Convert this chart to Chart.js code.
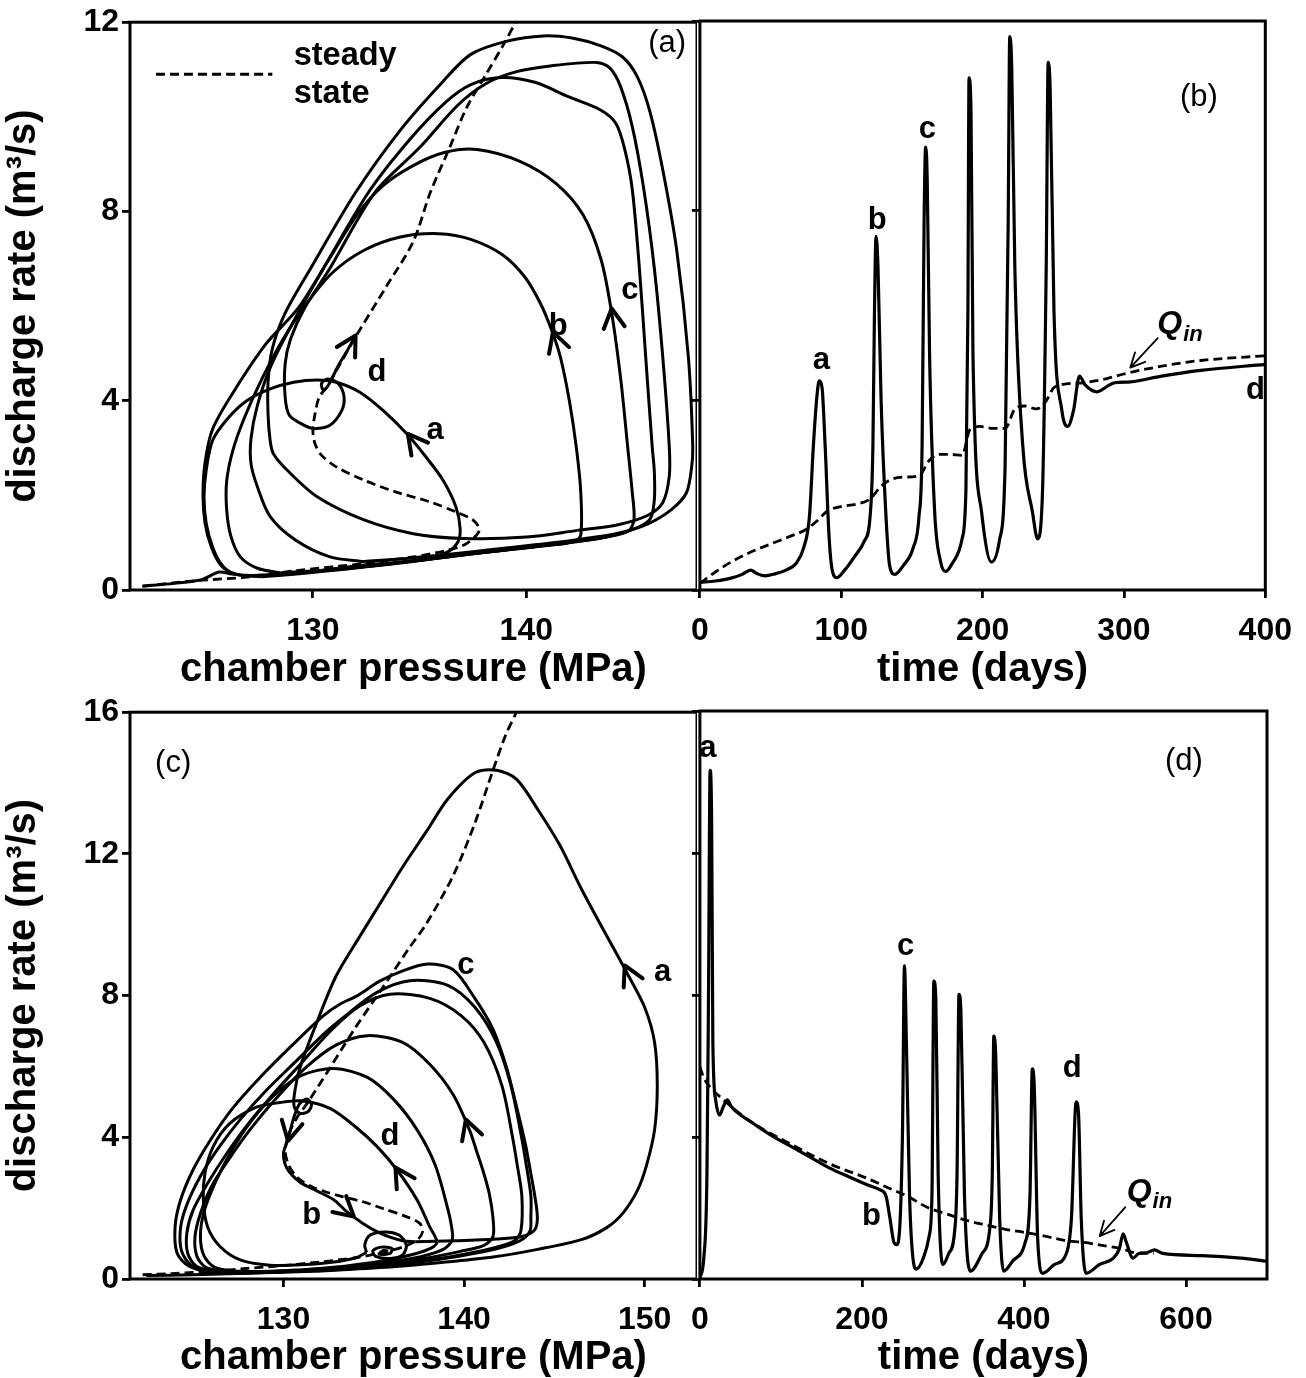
<!DOCTYPE html>
<html>
<head>
<meta charset="utf-8">
<script src="https://cdn.jsdelivr.net/npm/chart.js@4.4.1/dist/chart.umd.min.js"></script>
<style>
  html, body { margin: 0; padding: 0; background: #fff; }
  #wrap { position: relative; width: 1306px; height: 1378px; overflow: hidden; }
  canvas { position: absolute; }
</style>
</head>
<body>
<div id="wrap">
  <canvas id="chartA" width="697" height="690" style="left:0;top:0;width:697px;height:690px"></canvas>
  <canvas id="chartB" width="629" height="690" style="left:677px;top:0;width:629px;height:690px"></canvas>
  <canvas id="chartC" width="697" height="688" style="left:0;top:690px;width:697px;height:688px"></canvas>
  <canvas id="chartD" width="629" height="688" style="left:677px;top:690px;width:629px;height:688px"></canvas>
</div>
<script>
// ---- panel (a): chamber pressure (MPa) vs discharge rate (m3/s) ----
const steadyA = [[122.05,0.08],[124.6,0.2],[126.9,0.27],[129.2,0.41],[132.4,0.56],[134.7,0.7],[136.3,0.84],[137.2,0.98],[137.8,1.26],[137.5,1.48],[136.7,1.65],[135.5,1.86],[133.9,2.07],[132.4,2.32],[131.1,2.6],[130.4,2.85],[130.1,3.09],[130.0,3.37],[130.1,3.72],[130.3,4.08],[130.65,4.29],[131.1,4.64],[131.99,5.34],[133.45,6.42],[134.7,7.36],[135.5,8.4],[136.4,9.34],[137.2,10.19],[138.05,10.85],[138.9,11.5],[139.5,12.0]];
const loopA1 = [[122.0,0.08],[123.5,0.14],[124.8,0.22],[125.6,0.38],[126.2,0.34],[127.2,0.3],[128.8,0.34],[130.5,0.42],[132.4,0.53],[133.9,0.58],[135.3,0.66],[136.3,0.8],[136.8,1.02],[136.9,1.3],[136.7,1.76],[136.1,2.32],[135.3,2.81],[134.4,3.3],[133.3,3.79],[132.2,4.18],[131.1,4.39],[130.2,4.44],[129.1,4.39],[128.0,4.25],[126.9,4.0],[126.0,3.62],[125.3,3.16],[125.0,2.53],[124.9,1.97],[125.0,1.41],[125.3,0.91],[125.7,0.55],[126.2,0.36],[127.0,0.3]];
const loopA2 = [[127.0,0.3],[129.0,0.35],[131.0,0.43],[133.0,0.52],[135.0,0.63],[137.0,0.74],[139.0,0.84],[141.0,0.94],[142.2,1.02],[142.55,1.15],[142.55,2.09],[142.34,3.03],[142.03,3.97],[141.6,4.92],[141.2,5.48],[140.67,6.05],[139.94,6.61],[138.9,7.08],[137.4,7.41],[135.9,7.53],[134.1,7.46],[132.4,7.18],[130.9,6.7],[129.7,6.05],[128.6,5.3],[127.6,4.45],[126.8,3.65],[126.25,2.95],[125.96,2.3],[125.96,1.7],[126.15,1.15],[126.6,0.7],[127.4,0.46],[128.5,0.36]];
const loopA3 = [[128.5,0.36],[130.5,0.42],[132.5,0.5],[134.5,0.6],[136.5,0.71],[138.5,0.82],[140.5,0.92],[142.5,1.03],[144.0,1.14],[144.8,1.25],[145.05,1.5],[144.96,2.09],[144.75,3.03],[144.43,4.44],[144.0,5.86],[143.5,6.99],[142.66,7.93],[141.4,8.59],[139.7,9.06],[137.7,9.31],[136.2,9.25],[134.7,8.97],[133.3,8.55],[132.1,7.95],[130.7,6.95],[129.3,5.95],[127.8,5.2],[126.3,4.2],[125.3,3.4],[124.95,2.7],[124.85,2.0],[124.95,1.4],[125.25,0.9],[125.7,0.52],[126.4,0.33],[127.6,0.28]];
const loopA4 = [[127.6,0.28],[129.5,0.35],[131.5,0.44],[133.5,0.54],[135.5,0.65],[137.5,0.77],[139.5,0.87],[141.5,0.98],[143.5,1.1],[145.0,1.28],[145.8,1.5],[146.0,1.9],[146.0,2.5],[145.9,3.03],[145.6,4.9],[145.3,6.8],[144.96,8.49],[144.6,9.34],[144.2,9.86],[143.5,10.14],[142.0,10.42],[140.4,10.73],[138.8,10.83],[137.4,10.68],[136.2,10.3],[134.5,9.5],[132.6,8.4],[130.5,6.8],[129.0,5.6],[128.0,4.7],[127.4,3.9],[127.1,3.2],[127.1,2.67],[127.4,2.18],[128.0,1.55],[129.2,1.05],[130.8,0.7],[132.4,0.6]];
const loopA5 = [[132.4,0.6],[134.5,0.67],[136.5,0.76],[138.5,0.86],[140.5,0.96],[142.5,1.07],[144.3,1.2],[145.7,1.4],[146.8,1.7],[147.5,2.05],[147.75,2.6],[147.8,3.03],[147.6,4.9],[147.05,7.18],[146.4,8.87],[145.8,10.1],[145.2,10.85],[144.5,11.27],[143.5,11.5],[142.2,11.66],[140.8,11.71],[139.1,11.6],[137.4,11.32],[136.0,10.7],[134.1,9.72],[132.0,8.4],[129.9,6.8],[128.7,5.85],[128.1,5.1],[127.9,4.4],[127.9,3.7],[128.0,3.15],[128.15,2.88],[128.8,2.53],[130.2,1.97],[132.4,1.48],[134.7,1.19],[137.05,1.09],[140.0,1.12],[142.4,1.26]];
const loopA6 = [[142.4,1.26],[144.3,1.38],[145.7,1.58],[146.4,1.85],[146.7,2.4],[146.7,3.03],[146.4,4.9],[146.0,6.8],[145.5,8.49],[144.96,9.81],[144.4,10.66],[143.9,11.04],[143.3,11.15],[141.2,11.08],[139.5,10.95],[138.1,10.7],[136.8,10.25],[135.0,9.35],[132.9,8.4],[130.8,6.8],[129.6,5.95],[128.95,5.3],[128.7,4.78],[128.7,4.08],[128.9,3.69],[129.6,3.48],[130.07,3.41],[130.8,3.48],[131.35,3.79],[131.46,4.08],[131.2,4.36],[130.7,4.46],[130.4,4.36],[130.5,4.22],[130.75,4.35],[131.2,4.75],[131.6,5.05],[132.0,5.38]];
const legendLineA = [[122.65,10.9],[128.1,10.9]];
const arrowsA = [[134.45,3.3,135.3,2.81],[141.25,5.45,141.8,4.7],[144.0,5.95,144.4,4.6],[132.0,5.38,131.2,4.75]];
const labelsA = [[135.73,3.37,'a','b'],[141.5,5.57,'b','b'],[144.85,6.33,'c','b'],[133.0,4.6,'d','b'],[146.6,11.55,'(a)','r'],[129.1,11.28,'steady','bl'],[129.1,10.48,'state','bl']];

// ---- panel (b): time (days) vs discharge rate ----
const qOutB = [[0,0.16],[11,0.19],[22,0.25],[30,0.33],[36,0.42],[40,0.35],[46,0.3],[53,0.34],[61,0.42],[68,0.56],[73.4,0.89],[77.5,1.55],[80.3,3.05],[82.5,3.99],[84.4,4.41],[86.4,4.27],[88.6,3.05],[91.3,1.17],[93.6,0.42],[96.9,0.26],[102.4,0.42],[109.3,0.7],[116.3,1.03],[120.4,1.55],[122.4,3.05],[123.5,5.87],[124.6,7.46],[126.0,6.81],[128.2,3.99],[131.5,1.64],[134.2,0.52],[137.9,0.33],[144,0.52],[150.9,0.89],[155,1.55],[157.2,3.05],[158.6,7.75],[159.7,9.34],[160.8,8.69],[162.5,4.93],[166.1,1.64],[170.2,0.61],[173.8,0.39],[178.5,0.56],[185.5,1.08],[188.2,2.11],[189.6,5.87],[190.4,10.8],[191.8,10.09],[193.2,4.93],[199.3,1.64],[206.2,0.59],[211.8,1.03],[215.9,2.58],[218.1,7.75],[219.2,11.67],[220.6,11.03],[222.8,6.81],[228.4,3.05],[235.3,1.64],[238.9,1.08],[242.2,1.92],[245,6.81],[246.4,11.13],[247.8,10.56],[250.5,5.87],[256,3.8],[260.2,3.45],[264.4,3.8],[268.5,4.51],[272.7,4.32],[281,4.18],[287.9,4.29],[293.4,4.37],[304.5,4.39],[326.6,4.51],[354.3,4.63],[400,4.76]];
const qInB = [[0,0.14],[11,0.38],[22,0.59],[36,0.8],[50,0.97],[63.7,1.13],[74.7,1.27],[83,1.46],[90,1.66],[99.7,1.76],[110.7,1.81],[120.4,1.92],[127.3,2.16],[134.3,2.32],[143.9,2.38],[155,2.41],[161.9,2.72],[168.9,2.86],[177.2,2.86],[185.5,2.84],[191,3.38],[197.9,3.45],[207.6,3.41],[216,3.41],[222.9,3.82],[229.7,3.88],[238,3.82],[245,3.99],[250.5,4.27],[260.2,4.35],[271.3,4.37],[287.9,4.46],[299,4.55],[326.6,4.72],[354.3,4.84],[400,4.94]];
const labelsB = [[86,4.85,'a','b'],[125.5,7.8,'b','b'],[161,9.72,'c','b'],[393,4.2,'d','b'],[353,10.38,'(b)','r'],[337.7,5.6,'Q','q']];
const qArrowB = [323.9,5.31,304.5,4.69];

// ---- panel (c): chamber pressure vs discharge rate ----
const steadyC = [[122.2,0.12],[124,0.16],[126,0.22],[128,0.3],[130,0.38],[132,0.48],[134,0.6],[135.5,0.75],[136.6,0.9],[137.4,1.1],[137.7,1.33],[137.55,1.57],[136.8,1.76],[135.5,1.99],[134.4,2.18],[133.3,2.32],[132.4,2.45],[131.6,2.6],[130.8,2.85],[130.3,3.2],[130.1,3.6],[130.3,4.1],[130.8,4.6],[131.3,4.95],[132.6,5.98],[134.0,7.11],[135.5,8.23],[136.9,9.3],[137.9,10.02],[139.4,11.39],[140.6,12.87],[141.6,14.36],[142.3,15.35],[142.9,16.0]];
const loopC1 = [[122.4,0.1],[125.0,0.12],[128.0,0.16],[131.7,0.22],[134.2,0.29],[136.6,0.37],[139.0,0.48],[141.6,0.62],[144.0,0.83],[146.5,1.11],[147.9,1.45],[148.8,1.86],[149.6,2.5],[150.1,3.2],[150.55,4.21],[150.7,5.45],[150.55,6.68],[150.0,7.67],[149.0,8.66],[147.8,9.78],[146.5,11.01],[145.3,12.25],[144.1,13.24],[142.9,14.11],[141.8,14.36],[140.6,14.29],[139.1,13.55],[137.9,12.62],[136.6,11.63],[135.4,10.64],[134.2,9.65],[132.9,8.54],[131.7,7.05],[130.9,5.94],[130.6,5.2],[130.6,4.85],[130.9,4.68],[131.35,4.72],[131.55,4.92],[131.3,5.08],[130.9,4.95],[130.6,4.6],[130.25,3.95],[130.0,3.54],[130.2,3.12],[130.9,2.74],[131.8,2.5],[132.8,2.23],[133.5,1.9],[134.4,1.57],[135.2,1.33],[135.9,1.18],[136.6,1.08],[137.3,1.05]];
const loopC2 = [[137.3,1.05],[139.5,1.08],[141.8,1.13],[143.2,1.2],[143.9,1.38],[144.06,1.73],[143.9,2.4],[143.7,2.97],[143.4,3.8],[143.1,4.46],[142.7,5.3],[142.3,6.06],[141.6,7.05],[140.6,7.92],[139.4,8.73],[138.0,8.89],[136.6,8.7],[135.3,8.4],[134.1,8.0],[133.1,7.75],[132.2,7.43],[130.4,6.56],[128.7,5.69],[127.2,4.83],[126.0,3.96],[125.0,3.09],[124.3,2.23],[124.0,1.49],[124.1,0.74],[124.75,0.37],[126.0,0.19],[128.0,0.17],[130.0,0.2]];
const loopC3 = [[130.0,0.2],[132.5,0.26],[135.0,0.35],[137.5,0.48],[139.8,0.65],[141.8,0.85],[143.1,1.08],[143.65,1.35],[143.7,1.75],[143.7,2.35],[143.45,3.2],[143.2,3.96],[142.6,5.45],[141.8,6.68],[140.6,7.67],[139.1,8.29],[137.0,8.42],[135.2,8.1],[133.6,7.5],[132.3,6.95],[130.6,6.1],[129.0,5.3],[127.6,4.5],[126.4,3.7],[125.4,2.9],[124.65,2.1],[124.3,1.45],[124.35,0.8],[124.9,0.38],[126.1,0.21],[128.0,0.18],[130.0,0.21]];
const loopC4 = [[130.0,0.21],[132.5,0.27],[135.0,0.36],[137.5,0.5],[139.8,0.68],[141.8,0.9],[142.8,1.08],[143.15,1.36],[143.2,2.35],[142.95,3.2],[142.7,3.96],[142.1,5.45],[141.1,6.68],[139.85,7.43],[138.1,7.92],[135.9,8.04],[134.2,7.7],[132.7,7.05],[131.0,6.1],[129.4,5.2],[128.0,4.35],[126.8,3.5],[125.8,2.7],[125.0,1.95],[124.65,1.3],[124.7,0.72],[125.2,0.35],[126.4,0.2],[128.3,0.18],[130.3,0.22]];
const loopC5 = [[130.3,0.22],[133.0,0.3],[135.5,0.42],[137.8,0.58],[139.8,0.78],[141.1,0.95],[141.6,1.2],[141.6,1.73],[141.4,2.4],[141.1,2.97],[140.7,3.6],[140.3,4.21],[139.4,5.2],[138.1,6.06],[136.6,6.68],[134.65,6.87],[132.9,6.6],[131.2,5.95],[129.6,5.1],[128.2,4.25],[127.0,3.4],[126.0,2.6],[125.4,1.85],[125.1,1.2],[125.2,0.65],[125.7,0.33],[126.9,0.22],[128.8,0.2],[130.8,0.24]];
const loopC6 = [[130.8,0.24],[133.3,0.33],[135.6,0.46],[137.6,0.63],[138.9,0.85],[139.35,1.11],[139.3,1.5],[139.1,1.98],[138.4,3.22],[137.4,4.21],[136.1,5.07],[134.65,5.69],[132.8,5.94],[131.0,5.75],[129.5,5.2],[128.2,4.45],[127.1,3.6],[126.2,2.7],[125.6,1.9],[125.4,1.2],[125.6,0.65],[126.2,0.33],[127.5,0.22],[129.3,0.22],[131.3,0.27]];
const loopC7 = [[131.3,0.27],[133.5,0.37],[135.6,0.52],[137.2,0.7],[138.2,0.88],[138.5,1.05],[138.1,1.47],[137.4,2.23],[136.3,3.07],[135.2,3.73],[134.0,4.29],[132.6,4.81],[131.0,5.03],[129.8,4.98],[128.5,4.85],[127.0,4.38],[126.1,3.73],[125.65,2.98],[125.56,2.23],[125.8,1.47],[126.5,0.91],[127.6,0.54],[129.25,0.39],[131.0,0.4],[132.8,0.48],[134.0,0.6],[134.6,0.75]];
const tailC = [[134.6,0.75],[134.5,0.96],[134.8,1.24],[135.6,1.33],[136.4,1.24],[136.8,0.96],[136.6,0.68],[135.9,0.58],[135.1,0.64],[134.95,0.8],[135.4,0.9],[136.0,0.86],[135.9,0.72],[135.3,0.7],[135.5,0.8],[135.8,0.79]];
const arrowsC = [[148.9,8.85,149.8,7.9],[140.1,4.5,140.7,3.6],[136.2,3.15,137.0,2.5],[130.25,3.9,130.55,4.6],[133.9,1.76,132.9,2.2]];
const labelsC = [[123.89,14.54,'(c)','r'],[140.1,8.85,'c','b'],[151.0,8.66,'a','b'],[135.9,4.02,'d','b'],[131.56,1.8,'b','b']];

// ---- panel (d): time (days) vs discharge rate ----
const qOutD = [[0,0.04],[4.8,0.59],[8.7,2.95],[10.6,7.9],[12.6,14.33],[14.5,12.85],[16,6.66],[19.4,5.05],[24.2,4.62],[29,4.86],[33.9,5.05],[38.7,4.86],[62.9,4.43],[87.1,4.06],[111.3,3.75],[135.5,3.44],[159.7,3.13],[183.8,2.88],[208,2.64],[222.5,2.51],[229.8,2.33],[234.6,1.71],[239.5,1.03],[242.9,0.97],[246.7,1.46],[250.1,4.18],[252.5,8.82],[254.9,6.66],[258.8,2.33],[263.6,0.47],[267,0.28],[275.8,0.59],[283,1.21],[286.4,2.33],[288.8,8.39],[291.2,7.9],[294.1,2.95],[299.9,0.41],[307.2,0.72],[314.4,1.34],[317.4,2.95],[319.8,8.02],[322.2,7.52],[326.6,2.33],[333.8,0.22],[348.3,0.72],[358,1.46],[360.9,2.95],[362.8,6.84],[365.2,6.29],[370,1.71],[374.9,0.22],[387,0.53],[401.5,1.03],[407.4,2.33],[410.3,5.92],[412.7,5.42],[417,1.09],[423.3,0.16],[437.8,0.41],[452.3,0.72],[458.6,1.71],[464.4,4.99],[467.3,4.68],[470.7,1.71],[476.5,0.16],[493.5,0.41],[510.4,0.59],[517.6,0.84],[522.5,1.27],[526.4,1.03],[534.6,0.59],[541.8,0.72],[551.5,0.74],[561.2,0.82],[571,0.72],[619.3,0.66],[667.6,0.59],[700,0.5]];
const qInD = [[0,5.98],[4.8,5.67],[12.1,5.42],[29,5.05],[62.9,4.43],[111.3,3.81],[159.7,3.25],[208,2.82],[232.2,2.57],[256.4,2.33],[280.6,2.02],[304.8,1.83],[329,1.65],[353.2,1.52],[377.3,1.4],[401.5,1.31],[425.7,1.21],[449.9,1.09],[474.1,1.03],[498.3,0.94],[522.5,0.84],[537,0.74],[560,0.72]];
const labelsD = [[9.7,14.95,'a','b'],[253.9,9.38,'c','b'],[459.6,5.92,'d','b'],[211.9,1.77,'b','b'],[597.5,14.58,'(d)','r'],[551.5,2.45,'Q','q']];
const qArrowD = [524.9,2.02,493.5,1.21];

// axis ticks
const pressTicksA = [130, 140];
const pressTicksC = [130, 140, 150];
const daysTicksB = [0, 100, 200, 300, 400];
const daysTicksD = [0, 200, 400, 600];
const qTicksTop = [0, 4, 8, 12];
const qTicksBottom = [0, 4, 8, 12, 16];

const FONT = '"Liberation Sans", Arial, Helvetica, sans-serif';
Chart.defaults.font.family = FONT;
Chart.defaults.color = '#000';

const toPts = arr => arr.map(([x, y]) => ({x, y}));
const solid = (arr, mono) => ({
  data: toPts(arr), showLine: true, borderColor: '#000', backgroundColor: '#000',
  borderWidth: mono ? 3.2 : 3, pointRadius: 0, pointHoverRadius: 0,
  tension: mono ? 0 : 0.3, cubicInterpolationMode: mono ? 'monotone' : 'default'
});
const dashed = (arr, mono) => Object.assign(solid(arr, mono), {borderWidth: 2.8, borderDash: [9, 5]});

function xScale(min, max, ticks, title, height) {
  return {
    type: 'linear', min, max,
    afterBuildTicks: s => { s.ticks = ticks.map(v => ({value: v})); },
    afterFit: s => { s.height = height; },
    border: {display: false},
    grid: {drawOnChartArea: false, drawTicks: true, tickLength: 8, color: '#000', lineWidth: 2.8, tickWidth: 2.8},
    ticks: {color: '#000', font: {size: 32, weight: 'bold'}, padding: 14, maxRotation: 0, autoSkip: false},
    title: {display: true, text: title, color: '#000', font: {size: 40, weight: 'bold', lineHeight: 1}, padding: {top: 0, bottom: 0}}
  };
}

function yScale(max, ticks, withLabels) {
  return {
    type: 'linear', min: 0, max,
    afterBuildTicks: s => { s.ticks = ticks.map(v => ({value: v})); },
    afterFit: s => { s.width = withLabels ? 130 : 20; },
    border: {display: false},
    grid: {drawOnChartArea: false, drawTicks: true, tickLength: 8, color: '#000', lineWidth: 2.8, tickWidth: 2.8},
    ticks: {display: withLabels, color: '#000', font: {size: 32, weight: 'bold'}, padding: 3, autoSkip: false},
    title: {display: withLabels, text: 'discharge rate (m³/s)', color: '#000', font: {size: 40, weight: 'bold', lineHeight: 1}, padding: {top: 4, bottom: 0}}
  };
}

// frame, arrowheads and text notes, placed through the chart scales
function notes(labels, arrows, qArrow) {
  return {
    id: 'notes',
    afterDatasetsDraw(chart) {
      const {ctx, chartArea: a, scales: {x, y}} = chart;
      ctx.save();
      ctx.strokeStyle = '#000';
      ctx.lineWidth = 3;
      ctx.strokeRect(a.left, a.top, a.right - a.left, a.bottom - a.top);

      ctx.lineWidth = 4;
      ctx.lineCap = 'round';
      ctx.lineJoin = 'round';
      arrows.forEach(([tx, ty, bx, by]) => {
        const x1 = x.getPixelForValue(tx), y1 = y.getPixelForValue(ty);
        const x0 = x.getPixelForValue(bx), y0 = y.getPixelForValue(by);
        const ang = Math.atan2(y1 - y0, x1 - x0);
        ctx.beginPath();
        ctx.moveTo(x1 - 22 * Math.cos(ang - 0.5), y1 - 22 * Math.sin(ang - 0.5));
        ctx.lineTo(x1, y1);
        ctx.lineTo(x1 - 22 * Math.cos(ang + 0.5), y1 - 22 * Math.sin(ang + 0.5));
        ctx.stroke();
      });

      if (qArrow) {
        const [fx, fy, tx, ty] = qArrow;
        const x0 = x.getPixelForValue(fx), y0 = y.getPixelForValue(fy);
        const x1 = x.getPixelForValue(tx), y1 = y.getPixelForValue(ty);
        const ang = Math.atan2(y1 - y0, x1 - x0);
        ctx.lineWidth = 1.8;
        ctx.beginPath();
        ctx.moveTo(x0, y0);
        ctx.lineTo(x1, y1);
        ctx.moveTo(x1 - 16 * Math.cos(ang - 0.45), y1 - 16 * Math.sin(ang - 0.45));
        ctx.lineTo(x1, y1);
        ctx.lineTo(x1 - 16 * Math.cos(ang + 0.45), y1 - 16 * Math.sin(ang + 0.45));
        ctx.stroke();
      }

      ctx.fillStyle = '#000';
      ctx.textBaseline = 'middle';
      labels.forEach(([lx, ly, text, kind]) => {
        const px = x.getPixelForValue(lx), py = y.getPixelForValue(ly);
        if (kind === 'q') {
          ctx.textAlign = 'left';
          ctx.font = 'italic bold 32px ' + FONT;
          ctx.fillText(text, px - 20, py);
          const w = ctx.measureText(text).width;
          ctx.font = 'italic bold 22px ' + FONT;
          ctx.fillText('in', px - 20 + w + 1, py + 10);
          return;
        }
        ctx.textAlign = kind === 'bl' ? 'left' : 'center';
        ctx.font = (kind === 'r' ? '' : 'bold ') + (kind === 'bl' ? 32.5 : 31) + 'px ' + FONT;
        ctx.fillText(text, px, py);
      });
      ctx.restore();
    }
  };
}

function baseOptions(xs, ys, padRight) {
  return {
    responsive: false, animation: false, maintainAspectRatio: false,
    layout: {padding: {left: 0, right: padRight, top: 21, bottom: 0}},
    plugins: {legend: {display: false}, tooltip: {enabled: false}},
    events: [],
    scales: {x: xs, y: ys}
  };
}

new Chart(document.getElementById('chartA'), {
  type: 'scatter',
  data: {datasets: [
    dashed(steadyA), dashed(legendLineA),
    solid(loopA1), solid(loopA2), solid(loopA3), solid(loopA4), solid(loopA5), solid(loopA6)
  ]},
  options: baseOptions(xScale(121.43, 148, pressTicksA, 'chamber pressure (MPa)', 100), yScale(12, qTicksTop, true), 0),
  plugins: [notes(labelsA, arrowsA, null)]
});

new Chart(document.getElementById('chartB'), {
  type: 'scatter',
  data: {datasets: [dashed(qInB, true), solid(qOutB, true)]},
  options: baseOptions(xScale(0, 400, daysTicksB, 'time (days)', 100), yScale(12, qTicksTop, false), 39),
  plugins: [notes(labelsB, [], qArrowB)]
});

new Chart(document.getElementById('chartC'), {
  type: 'scatter',
  data: {datasets: [
    dashed(steadyC),
    solid(loopC1), solid(loopC2), solid(loopC3), solid(loopC4), solid(loopC5), solid(loopC6), solid(loopC7), solid(tailC)
  ]},
  options: baseOptions(xScale(121.5, 152.9, pressTicksC, 'chamber pressure (MPa)', 99), yScale(16, qTicksBottom, true), 0),
  plugins: [notes(labelsC, arrowsC, null)]
});

new Chart(document.getElementById('chartD'), {
  type: 'scatter',
  data: {datasets: [dashed(qInD, true), solid(qOutD, true)]},
  options: baseOptions(xScale(0, 700, daysTicksD, 'time (days)', 99), yScale(16, qTicksBottom, false), 39),
  plugins: [notes(labelsD, [], qArrowD)]
});
</script>
</body>
</html>
